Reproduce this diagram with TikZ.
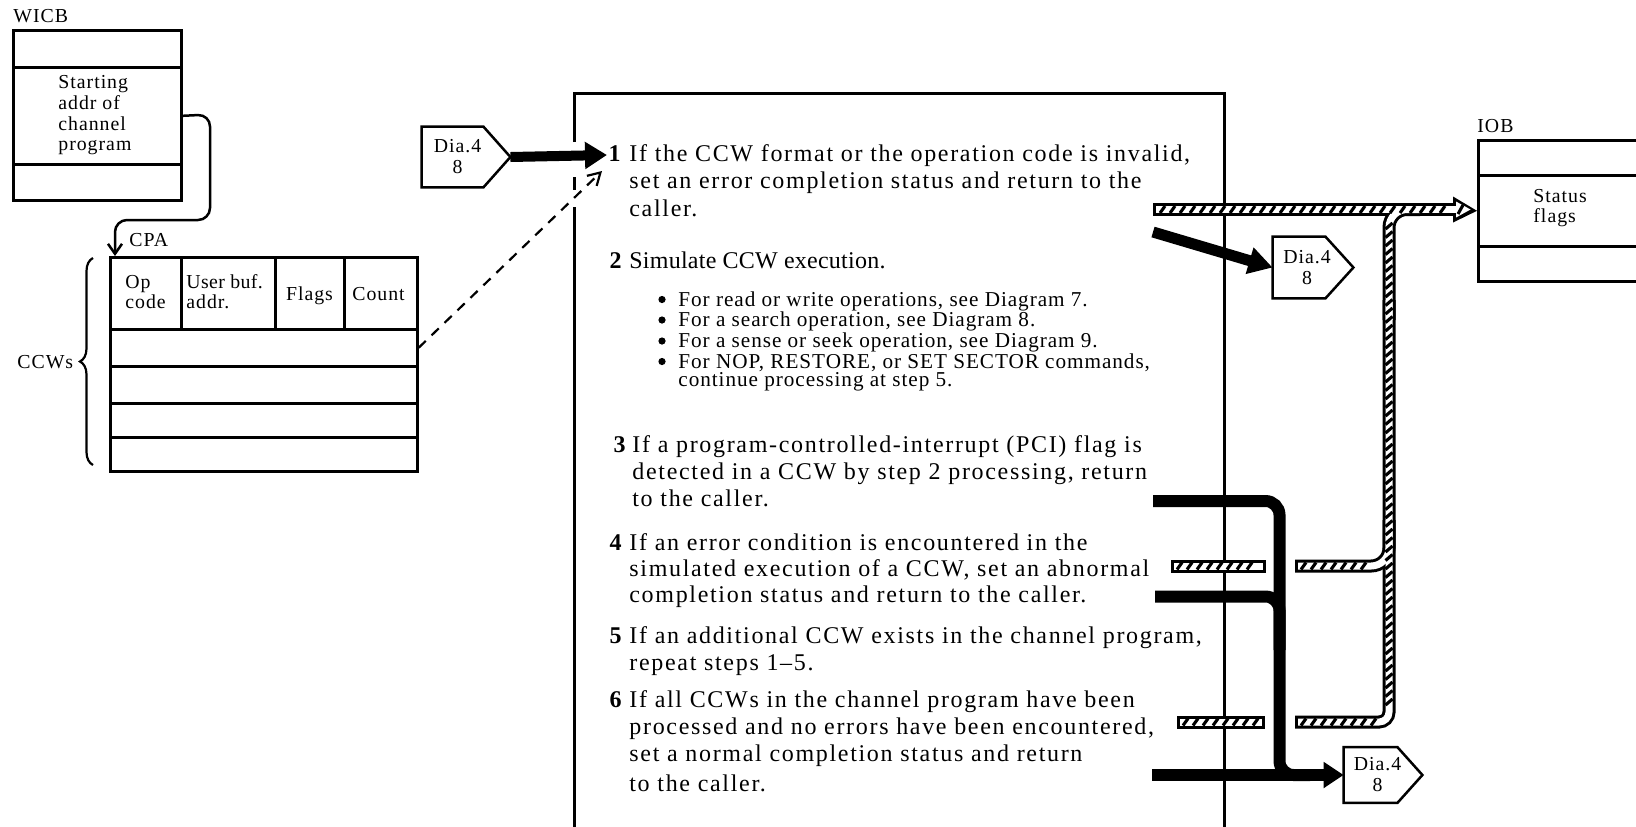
\documentclass[tikz,border=0pt]{standalone}
\usepackage{fontspec}
\setmainfont{Liberation Serif}
\newfontfamily\widefont[LetterSpace=7]{Liberation Serif}
\newfontfamily\bulletfont[LetterSpace=4.5]{Liberation Serif}
\newfontfamily\labelfont[LetterSpace=5]{Liberation Serif}
\usetikzlibrary{arrows.meta,decorations.pathreplacing,calc}

\tikzset{
  cell/.style={draw, line width=1.3pt, inner sep=0pt, anchor=north west},
  lbl/.style={inner sep=0pt, anchor=base west, font=\labelfont\fontsize{9.9pt}{11pt}\selectfont},
  lblc/.style={lbl, anchor=base},
  steptxt/.style={inner sep=0pt, anchor=base west, font=\widefont\fontsize{12pt}{14pt}\selectfont},
  stepnum/.style={inner sep=0pt, anchor=base east, font=\fontsize{12pt}{14pt}\selectfont\bfseries},
  bultxt/.style={inner sep=0pt, anchor=base west, font=\bulletfont\fontsize{10.6pt}{12pt}\selectfont},
  offpage/.style={inner sep=0pt, align=center, font=\labelfont\fontsize{9.9pt}{10.5pt}\selectfont},
  frame/.style={line width=1.5pt},
  thinline/.style={line width=1.25pt},
  flow/.style={line width=6pt},
  bandout/.style={line width=6.5pt},
  bandin/.style={line width=3.5pt, white},
  hatch/.style={line width=1.55pt},
}

\begin{document}
\begin{tikzpicture}[x=0.5pt, y=-0.5pt]
\useasboundingbox (0,0) rectangle (1636,826);

% ---------- processing frame ----------
\draw[frame] (574.5,142) -- (574.5,93.5) -- (1224,93.5) -- (1224,830);
\draw[frame] (574.5,177) -- (574.5,190);
\draw[frame] (574.5,207) -- (574.5,830);

% ---------- WICB ----------
\node[lbl] (wicbl) at (13,22) {WICB};
\node[cell, minimum width=84pt, minimum height=18.5pt] (w1) at (12,29) {};
\node[cell, minimum width=84pt, minimum height=48.5pt] (w2) at (12,66) {};
\node[cell, minimum width=84pt, minimum height=18pt] (w3) at (12,163) {};
\node[lbl] (wt1) at (58,88) {Starting};
\node[lbl] (wt2) at (58,109) {addr of};
\node[lbl] (wt3) at (58,130) {channel};
\node[lbl] (wt4) at (58,150) {program};

% ---------- CPA / CCWs ----------
\node[lbl] (cpal) at (129,246) {CPA};
\node[cell, minimum width=35.5pt, minimum height=36pt] (c1) at (109,256) {};
\node[cell, minimum width=47pt, minimum height=36pt] (c2) at (180,256) {};
\node[cell, minimum width=34.5pt, minimum height=36pt] (c3) at (274,256) {};
\node[cell, minimum width=36.5pt, minimum height=36pt] (c4) at (343,256) {};
\node[cell, minimum width=153.5pt, minimum height=18.5pt] (r1) at (109,328) {};
\node[cell, minimum width=153.5pt, minimum height=18.5pt] (r2) at (109,365) {};
\node[cell, minimum width=153.5pt, minimum height=17pt] (r3) at (109,402) {};
\node[cell, minimum width=153.5pt, minimum height=17pt] (r4) at (109,436) {};
\node[lbl] (h1a) at (125,288) {Op};
\node[lbl] (h1b) at (125,308) {code};
\node[lbl, font=\labelfont\fontsize{9.9pt}{11pt}\selectfont\addfontfeature{LetterSpace=2}] (h2a) at (186,288) {User buf.};
\node[lbl] (h2b) at (186,308) {addr.};
\node[lblc] (h3) at (309.5,300) {Flags};
\node[lblc] (h4) at (378.5,300) {Count};

\node[lbl] (ccwl) at (17,368) {CCWs};
\draw[line width=1.1pt, decorate, decoration={brace, amplitude=6.5pt}] (93,465) -- (93,258);

% pointer from WICB to the channel program
\coordinate (cpatop) at ($(c1.north west)+(6,0)$);
\draw[thinline, rounded corners=6pt, -{Straight Barb[length=5pt,width=7pt]}]
  (w2.east) -- (210,114.5) -- (210,220) -- (115,220) -- (cpatop);

% ---------- IOB ----------
\node[lbl] (iobl) at (1477,132) {IOB};
\node[cell, minimum width=100pt, minimum height=17.5pt] (i1) at (1477,139) {};
\node[cell, minimum width=100pt, minimum height=35.5pt] (i2) at (1477,174) {};
\node[cell, minimum width=100pt, minimum height=17.5pt] (i3) at (1477,245) {};
\node[lbl] (st1) at (1533,202) {Status};
\node[lbl] (st2) at (1533,222) {flags};

% ---------- step text ----------
\node[stepnum] (n1) at (621,161) {1};
\node[steptxt] (s1a) at (629,161) {If the CCW format or the operation code is invalid,};
\node[steptxt] (s1b) at (629,188) {set an error completion status and return to the};
\node[steptxt] (s1c) at (629,216) {caller.};

\node[stepnum] (n2) at (622,268) {2};
\node[steptxt, font=\widefont\fontsize{12pt}{14pt}\selectfont\addfontfeature{LetterSpace=1}] (s2a) at (629,268) {Simulate CCW execution.};
\foreach \yy in {306,326.5,347.5,368} \fill (662,\yy-6.5) circle[radius=1.8pt];
\node[bultxt] (b1) at (678,306) {For read or write operations, see Diagram 7.};
\node[bultxt] (b2) at (678,326.5) {For a search operation, see Diagram 8.};
\node[bultxt] (b3) at (678,347.5) {For a sense or seek operation, see Diagram 9.};
\node[bultxt] (b4) at (678,368) {For NOP, RESTORE, or SET SECTOR commands,};
\node[bultxt] (b5) at (678,386) {continue processing at step 5.};

\node[stepnum] (n3) at (626,452) {3};
\node[steptxt] (s3a) at (632,452) {If a program-controlled-interrupt (PCI) flag is};
\node[steptxt] (s3b) at (632,479) {detected in a CCW by step 2 processing, return};
\node[steptxt] (s3c) at (632,506) {to the caller.};

\node[stepnum] (n4) at (622,550) {4};
\node[steptxt] (s4a) at (629,550) {If an error condition is encountered in the};
\node[steptxt] (s4b) at (629,576) {simulated execution of a CCW, set an abnormal};
\node[steptxt] (s4c) at (629,602) {completion status and return to the caller.};

\node[stepnum] (n5) at (622,643) {5};
\node[steptxt] (s5a) at (629,643) {If an additional CCW exists in the channel program,};
\node[steptxt] (s5b) at (629,670) {repeat steps 1–5.};

\node[stepnum] (n6) at (622,707.5) {6};
\node[steptxt] (s6a) at (629,707.5) {If all CCWs in the channel program have been};
\node[steptxt] (s6b) at (629,734.5) {processed and no errors have been encountered,};
\node[steptxt] (s6c) at (629,761.5) {set a normal completion status and return};
\node[steptxt] (s6d) at (629,791) {to the caller.};

% ---------- off-page connectors ----------
\node[minimum width=30.5pt, minimum height=30pt, inner sep=0pt] (dL) at (452.5,157) {};
\coordinate (dLtip) at ($(dL.east)+(27,0)$);
\draw[thinline] (dL.north west) -- (dL.north east) -- (dLtip) -- (dL.south east) -- (dL.south west) -- cycle;
\node[offpage] (dLt) at ($(dL.center)+(5,0)$) {Dia.4\\8};

\node[minimum width=26pt, minimum height=30.5pt, inner sep=0pt] (dR) at (1299,267.5) {};
\coordinate (dRtip) at ($(dR.east)+(28,0)$);
\draw[thinline] (dR.north west) -- (dR.north east) -- (dRtip) -- (dR.south east) -- (dR.south west) -- cycle;
\node[offpage] (dRt) at ($(dR.center)+(8,0)$) {Dia.4\\8};

\node[minimum width=26.5pt, minimum height=27.5pt, inner sep=0pt] (dB) at (1370.5,775) {};
\coordinate (dBtip) at ($(dB.east)+(25,0)$);
\draw[thinline] (dB.north west) -- (dB.north east) -- (dBtip) -- (dB.south east) -- (dB.south west) -- cycle;
\node[offpage] (dBt) at ($(dB.center)+(7,0)$) {Dia.4\\8};

% ---------- control flow ----------
\coordinate (entry) at (607,155);
\draw[line width=5pt, -{Triangle[length=11pt,width=13pt]}] (dLtip) -- (entry);

\coordinate (entry2) at (602,171);
\draw[line width=1.1pt, dash pattern=on 5pt off 4pt, -{Straight Barb[length=6pt,width=7pt]}] (r1.east) -- (entry2);

\coordinate (x1) at (1153,232);
\draw[line width=5.5pt, -{Triangle[length=12pt,width=13pt]}] (x1) -- (dR.west);

\coordinate (x3) at (1153,501);
\coordinate (x4) at (1155,596.5);
\coordinate (x6) at (1152,775);
\draw[flow, rounded corners=7pt] (x3) -- (1279.5,501) -- (1279.5,775) -- (1310,775);
\draw[flow, rounded corners=7pt] (x4) -- (1279.5,596.5) -- (1279.5,650);
\draw[flow, -{Triangle[length=10pt,width=12.5pt]}] (x6) -- (dB.west);

% ---------- status data flow (hatched) ----------
\coordinate (y1) at (1153,209.5);
\coordinate (y4l) at (1171,566);
\coordinate (y4r) at (1295,566);
\coordinate (y6l) at (1177,722);
\coordinate (y6r) at (1295,722);
% outlines
\draw[bandout] (y1) -- (1455,209.5);
\fill (1453,196.5) -- (i2.west) -- (1453,222.5) -- cycle;
\draw[bandout, rounded corners=5pt] (y6r) -- (1389,722) -- (1389,300);
\draw[bandout, rounded corners=9pt] (1389,320) -- (1389,209.5) -- (1420,209.5);
\draw[bandout, rounded corners=9pt] (y4r) -- (1389,566) -- (1389,520);
\draw[bandout] (y4l) -- (1266,566);
\draw[bandout] (y6l) -- (1265,722);
% hollow cores
\draw[bandin] (1156,209.5) -- (1459,209.5);
\fill[white] (1456,201.5) -- (1470.5,209.5) -- (1456,217.5) -- cycle;
\draw[bandin, rounded corners=5pt] (1298,722) -- (1389,722) -- (1389,300);
\draw[bandin, rounded corners=9pt] (1389,320) -- (1389,209.5) -- (1420,209.5);
\draw[bandin, rounded corners=9pt] (1298,566) -- (1389,566) -- (1389,520);
\draw[bandin] (1174,566) -- (1263,566);
\draw[bandin] (1180,722) -- (1262,722);
% hatching
\foreach \xx in {1160,1170,...,1447} \draw[hatch] (\xx,213) -- (\xx+5,206);
\draw[hatch] (1458,214) -- (1463,205);
\foreach \yy in {226,234.5,...,710} \draw[hatch] (1385.5,\yy+3) -- (1392.5,\yy-3);
\foreach \xx in {1301,1311,...,1378} \draw[hatch] (\xx,725.5) -- (\xx+5,718.5);
\foreach \xx in {1301,1311,...,1367} \draw[hatch] (\xx,569.5) -- (\xx+5,562.5);
\foreach \xx in {1177,1187,...,1254} \draw[hatch] (\xx,569.5) -- (\xx+5,562.5);
\foreach \xx in {1183,1193,...,1254} \draw[hatch] (\xx,725.5) -- (\xx+5,718.5);

\end{tikzpicture}
\end{document}
